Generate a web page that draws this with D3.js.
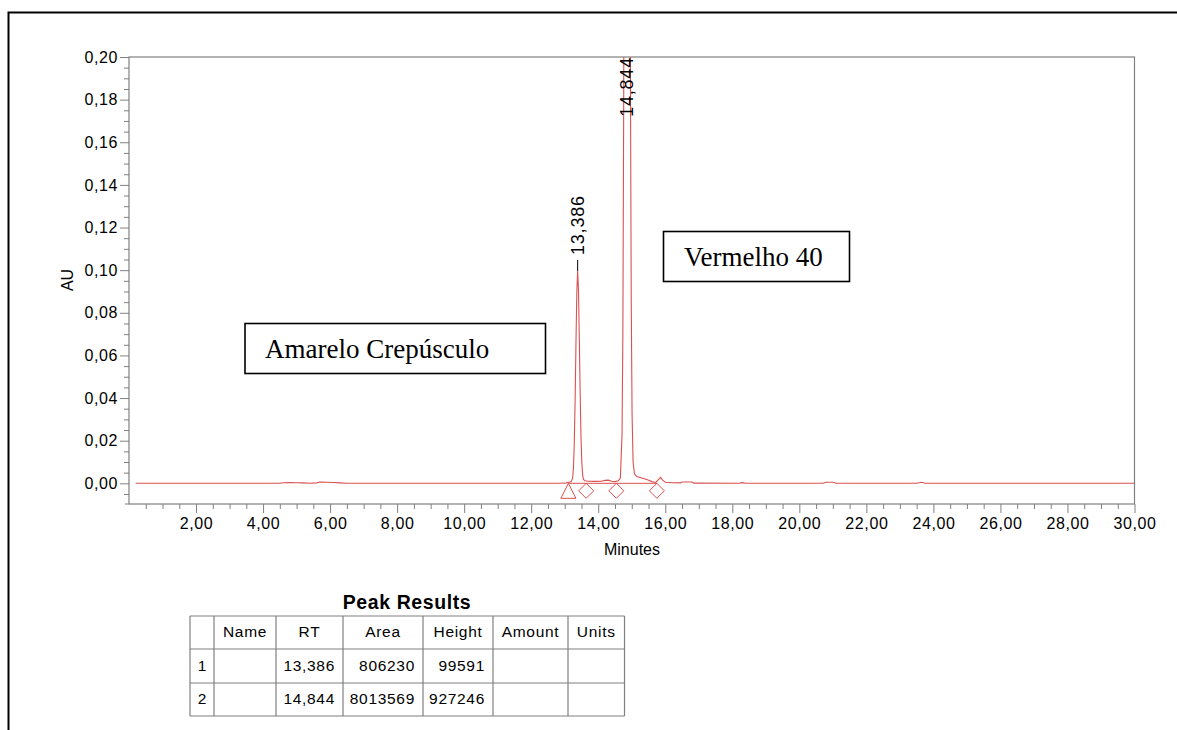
<!DOCTYPE html>
<html lang="pt">
<head>
<meta charset="UTF-8">
<title>Cromatograma</title>
<script src="https://cdn.jsdelivr.net/npm/d3@7"></script>
<style>
  body { margin: 0; background: #fff; }
</style>
</head>
<body>
<svg width="1177" height="730" font-family="Arial, 'Liberation Sans', sans-serif"></svg>
<script>
// trace (minutes, AU)
const traceTime = [0.2, 4.5, 4.6, 4.8, 5.0, 5.2, 5.4, 5.6, 5.7, 5.9, 6.1, 6.3, 6.5,
  12.9, 13.05, 13.15, 13.19, 13.236, 13.261, 13.286, 13.311, 13.336, 13.361, 13.386,
  13.411, 13.436, 13.461, 13.486, 13.511, 13.536, 13.56, 13.6, 13.7, 13.9, 14.1, 14.2,
  14.3, 14.4, 14.5, 14.6, 14.66, 14.71, 14.735, 14.76, 14.785, 14.81, 14.835, 14.86,
  14.885, 14.91, 14.935, 14.96, 14.985, 15.01, 15.04, 15.08, 15.15, 15.3, 15.45, 15.6,
  15.72, 15.8, 15.86, 15.92, 16.0, 16.2, 16.45, 16.5, 16.8, 16.85, 18.2, 18.3, 18.4,
  20.7, 20.8, 21.0, 21.1, 23.5, 23.65, 23.75, 30];
const traceAU = [0, 0, 0.0003, 0.0004, 0.0003, 0.0002, 0, 0.0002, 0.0006, 0.0005, 0.0004, 0.0002, 0,
  0, 0.0002, 0.0006, 0.0008, 0.0024, 0.0075, 0.019, 0.0393, 0.0659, 0.0898, 0.0996,
  0.0905, 0.0675, 0.042, 0.0215, 0.0095, 0.0038, 0.0018, 0.0012, 0.001, 0.0009, 0.001, 0.0014,
  0.0015, 0.001, 0.0008, 0.0012, 0.0025, 0.0226, 0.0704, 0.178, 0.367, 0.616, 0.839, 0.93,
  0.845, 0.63, 0.385, 0.195, 0.085, 0.032, 0.01, 0.0045, 0.0032, 0.0025, 0.0018, 0.0008,
  0.0004, 0.0018, 0.0028, 0.0015, 0.0005, 0.0003, 0.0002, 0.0006, 0.0006, 0.0001, 0, 0.0003, 0,
  0, 0.0005, 0.0005, 0, 0, 0.0005, 0, 0];

// peak table
const peakNo = ['1', '2'];
const peakRT = [13.386, 14.844];
const peakArea = [806230, 8013569];
const peakHeight = [99591, 927246];   // µAU
const tableHeaders = ['', 'Name', 'RT', 'Area', 'Height', 'Amount', 'Units'];

// integration marks
const markType = ['triangle', 'diamond', 'diamond', 'diamond'];
const markTime = [13.11, 13.64, 14.54, 15.75];

// annotations
const boxLabels = ['Amarelo Crepúsculo', 'Vermelho 40'];

const xTicksMajor = d3.range(2, 31, 2);
const xTicksMinor = d3.range(0.5, 30, 0.5).filter(d => d % 2 !== 0);
const yTicksMajor = d3.range(0, 0.2001, 0.02);
const yTicksMinor = d3.range(-0.005, 0.2, 0.005).filter(d => Math.abs(Math.round(d / 0.02) * 0.02 - d) > 1e-6);

const comma = d3.formatLocale({decimal: ',', thousands: '.', grouping: [3], currency: ['', '']});
const fmt2 = comma.format('.2f');
const fmt3 = comma.format('.3f');

const red = '#dc5050';
const grey = '#808080';

let svg = d3.select('svg');

// outer frame (runs off page right/bottom)
svg.append('rect').attr('x', 8.5).attr('y', 12.5).attr('width', 1300).attr('height', 900)
  .attr('fill', 'none').attr('stroke', '#000').attr('stroke-width', 2);

const pL = 129, pR = 1134.5, pT = 57, pB = 504;
let x = d3.scaleLinear().domain([0, 30]).range([pL, pR]);
let y = d3.scaleLinear().domain([-0.0097, 0.2]).range([pB, pT]);

svg.append('defs').append('clipPath').attr('id', 'plot')
  .append('rect').attr('x', pL).attr('y', pT).attr('width', pR - pL).attr('height', pB - pT);

// axes
function styleAxis(g) {
  g.select('.domain').remove();
  g.attr('font-family', null).attr('font-size', 16);
  g.selectAll('line').attr('stroke', grey);
  g.selectAll('text').attr('fill', '#000').attr('letter-spacing', 0.6);
}
svg.append('g').attr('transform', `translate(0,${pB})`)
  .call(d3.axisBottom(x).tickValues(xTicksMinor).tickSize(5).tickFormat(''))
  .call(styleAxis);
svg.append('g').attr('transform', `translate(0,${pB})`)
  .call(d3.axisBottom(x).tickValues(xTicksMajor).tickSize(9).tickPadding(5).tickFormat(fmt2))
  .call(styleAxis);
svg.append('g').attr('transform', `translate(${pL},0)`)
  .call(d3.axisLeft(y).tickValues(yTicksMinor).tickSize(5).tickFormat(''))
  .call(styleAxis);
svg.append('g').attr('transform', `translate(${pL},0)`)
  .call(d3.axisLeft(y).tickValues(yTicksMajor).tickSize(9).tickPadding(2).tickFormat(fmt2))
  .call(styleAxis);

svg.append('rect').attr('x', pL).attr('y', pT).attr('width', pR - pL).attr('height', pB - pT)
  .attr('fill', 'none').attr('stroke', grey).attr('stroke-width', 1.2);
svg.append('line').attr('x1', pL - 4).attr('x2', pL).attr('y1', pB).attr('y2', pB)
  .attr('stroke', grey);

svg.append('text').attr('x', 632).attr('y', 555).attr('text-anchor', 'middle')
  .attr('font-size', 16).text('Minutes');
svg.append('text').attr('transform', 'translate(73,280) rotate(-90)').attr('text-anchor', 'middle')
  .attr('font-size', 16).text('AU');

// integration baseline + trace
const trace = traceTime.map((t, i) => ({t: t, v: traceAU[i]}));
svg.append('line').attr('x1', x(markTime[0])).attr('x2', x(markTime[markTime.length - 1]))
  .attr('y1', y(0)).attr('y2', y(0)).attr('stroke', red).attr('stroke-width', 1);
svg.append('path').datum(trace)
  .attr('clip-path', 'url(#plot)')
  .attr('fill', 'none').attr('stroke', red).attr('stroke-width', 1.1)
  .attr('d', d3.line().x(d => x(d.t)).y(d => y(d.v)));

// markers
svg.selectAll('.mark').data(markTime).enter().append('path')
  .attr('class', 'mark')
  .attr('fill', 'none').attr('stroke', red).attr('stroke-width', 1)
  .attr('d', (d, i) => {
    const cx = x(d), y0 = y(0);
    if (markType[i] === 'triangle') return `M${cx},${y0} L${cx + 7.5},${y0 + 15} L${cx - 7.5},${y0 + 15} Z`;
    return `M${cx},${y0} L${cx + 7.5},${y0 + 7.5} L${cx},${y0 + 15} L${cx - 7.5},${y0 + 7.5} Z`;
  });

// peak labels
peakRT.forEach((rt, i) => {
  const h = peakHeight[i] / 1e6;
  const px = x(rt);
  if (h < y.domain()[1]) {
    const py = y(h);
    svg.append('line').attr('x1', px).attr('x2', px).attr('y1', py - 11).attr('y2', py)
      .attr('stroke', '#000');
    svg.append('text').attr('transform', `translate(${px + 6},${py - 16}) rotate(-90)`)
      .attr('font-size', 18).attr('letter-spacing', 0.8).text(fmt3(rt));
  } else {
    svg.append('text').attr('transform', `translate(${px + 6},${pT}) rotate(-90)`)
      .attr('text-anchor', 'end')
      .attr('font-size', 18).attr('letter-spacing', 0.8).text(fmt3(rt));
  }
});

// annotation boxes
const boxPos = [{x: 245, y: 323.5, w: 300.5, h: 50, tx: 265, ty: 358}, {x: 663.5, y: 231.5, w: 186, h: 50, tx: 684, ty: 266}];
boxLabels.forEach((lab, i) => {
  const b = boxPos[i];
  svg.append('rect').attr('x', b.x).attr('y', b.y).attr('width', b.w).attr('height', b.h)
    .attr('fill', '#fff').attr('stroke', '#000').attr('stroke-width', 1.6);
  svg.append('text').attr('x', b.tx).attr('y', b.ty)
    .attr('font-family', "'Liberation Serif', 'Times New Roman', serif")
    .attr('font-size', 27).text(lab);
});

// peak results table
const colX = [190, 214, 276, 343, 423, 493, 568, 624.5];
const rowY = [616, 649, 683, 716];
let tbl = svg.append('g');
tbl.append('text').attr('x', 407).attr('y', 609).attr('text-anchor', 'middle')
  .attr('font-size', 19.5).attr('font-weight', 'bold').attr('letter-spacing', 0.6).text('Peak Results');
colX.forEach(cx => tbl.append('line').attr('x1', cx).attr('x2', cx).attr('y1', rowY[0]).attr('y2', rowY[3])
  .attr('stroke', grey).attr('stroke-width', 1.2));
rowY.forEach(ry => tbl.append('line').attr('x1', colX[0]).attr('x2', colX[7]).attr('y1', ry).attr('y2', ry)
  .attr('stroke', grey).attr('stroke-width', 1.2));
tableHeaders.forEach((hd, j) => {
  tbl.append('text').attr('x', (colX[j] + colX[j + 1]) / 2).attr('y', 637).attr('text-anchor', 'middle')
    .attr('font-size', 15.5).attr('letter-spacing', 0.7).text(hd);
});
const rows = peakNo.map((n, i) => [n, '', fmt3(peakRT[i]), String(peakArea[i]), String(peakHeight[i]), '', '']);
rows.forEach((r, i) => {
  const by = [671, 704][i];
  r.forEach((c, j) => {
    if (!c) return;
    if (j === 0) {
      tbl.append('text').attr('x', (colX[0] + colX[1]) / 2).attr('y', by).attr('text-anchor', 'middle')
        .attr('font-size', 15.5).text(c);
    } else {
      tbl.append('text').attr('x', colX[j + 1] - 8).attr('y', by).attr('text-anchor', 'end')
        .attr('font-size', 15.5).attr('letter-spacing', 0.7).text(c);
    }
  });
});
</script>
</body>
</html>
